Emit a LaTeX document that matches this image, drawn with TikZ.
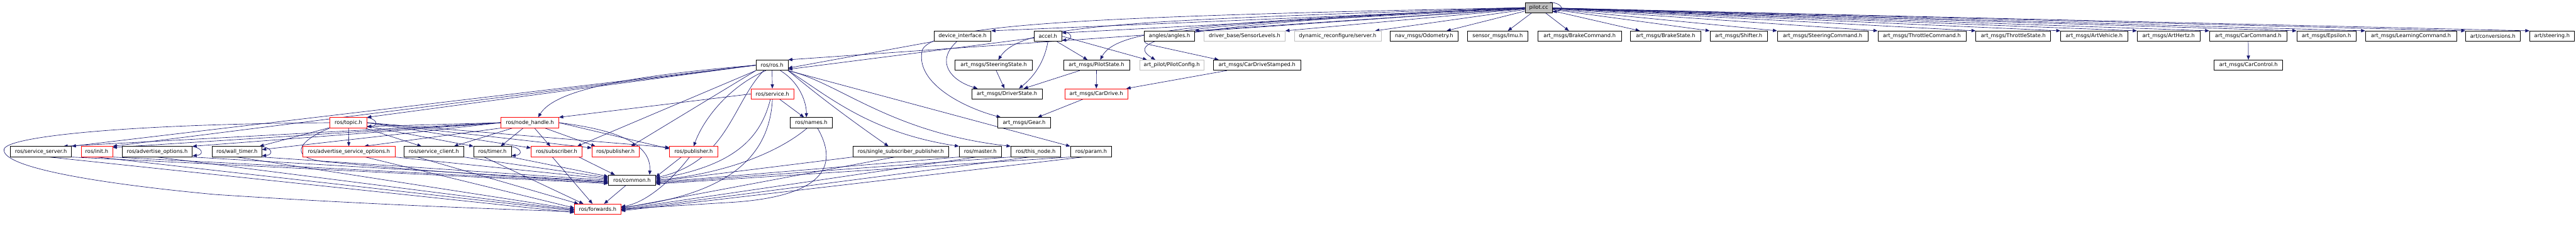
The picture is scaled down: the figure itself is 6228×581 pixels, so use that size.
\documentclass[tikz,border=0pt]{standalone}
\usepackage{fontspec}
\setmainfont{DejaVu Sans}
\usetikzlibrary{arrows.meta,backgrounds}
\definecolor{edgec}{HTML}{191970}
\definecolor{grayb}{HTML}{BFBFBF}
\definecolor{redb}{HTML}{FF0000}
\tikzset{
 nbox/.style={draw=black, line width=1.1pt, fill=white, minimum height=25pt, inner sep=0pt, font=\fontsize{12.6}{14}\selectfont},
 rbox/.style={nbox, draw=redb},
 gbox/.style={nbox, draw=grayb},
 pbox/.style={nbox, fill=grayb},
 edg/.style={draw=edgec, line width=1pt, -{Triangle[length=10pt,width=8pt]}},
}
\newcommand\mknode[6]{\node[#1,minimum width={#4-#3}] (#2) at ({(#3+#4)/2},-#5) {#6};}
\newcommand\selfloop[1]{\draw[edg] ([xshift=-6pt]#1.north east) .. controls +(30,-2) and +(30,3) .. ([yshift=3pt]#1.south east);}
\begin{document}
\begin{tikzpicture}[x=1pt,y=1pt]
\useasboundingbox (0,0) rectangle (6228,-581);
% row 0
\mknode{pbox}{pilot}{3687}{3753}{18.5}{pilot.cc}
% row 1
\mknode{nbox}{dev}{2258}{2396}{87.5}{device\_interface.h}
\mknode{nbox}{accel}{2500}{2567}{87.5}{accel.h}
\mknode{nbox}{angles}{2767}{2888}{87.5}{angles/angles.h}
\mknode{gbox}{sensorlv}{2911}{3107}{87.5}{driver\_base/SensorLevels.h}
\mknode{gbox}{dynrec}{3129}{3339}{87.5}{dynamic\_reconfigure/server.h}
\mknode{nbox}{odom}{3361}{3525}{87.5}{nav\_msgs/Odometry.h}
\mknode{nbox}{imu}{3548}{3694}{87.5}{sensor\_msgs/Imu.h}
\mknode{nbox}{brakecmd}{3718}{3920}{87.5}{art\_msgs/BrakeCommand.h}
\mknode{nbox}{brakest}{3942}{4112}{87.5}{art\_msgs/BrakeState.h}
\mknode{nbox}{shifter}{4134}{4273}{87.5}{art\_msgs/Shifter.h}
\mknode{nbox}{steercmd}{4297}{4516}{87.5}{art\_msgs/SteeringCommand.h}
\mknode{nbox}{throtcmd}{4540}{4753}{87.5}{art\_msgs/ThrottleCommand.h}
\mknode{nbox}{throtst}{4777}{4958}{87.5}{art\_msgs/ThrottleState.h}
\mknode{nbox}{artveh}{4982}{5144}{87.5}{art\_msgs/ArtVehicle.h}
\mknode{nbox}{arthz}{5167}{5319}{87.5}{art\_msgs/ArtHertz.h}
\mknode{nbox}{carcmd}{5342}{5529}{87.5}{art\_msgs/CarCommand.h}
\mknode{nbox}{eps}{5553}{5696}{87.5}{art\_msgs/Epsilon.h}
\mknode{nbox}{learn}{5719}{5939}{87.5}{art\_msgs/LearningCommand.h}
\mknode{nbox}{conv}{5961}{6093}{87.5}{art/conversions.h}
\mknode{nbox}{steering}{6116}{6224}{87.5}{art/steering.h}
% row 2
\mknode{nbox}{ros}{1828}{1905}{157.5}{ros/ros.h}
\mknode{nbox}{steerst}{2309}{2496}{157.5}{art\_msgs/SteeringState.h}
\mknode{nbox}{pilotst}{2571}{2731}{157.5}{art\_msgs/PilotState.h}
\mknode{gbox}{pilotcfg}{2755}{2911}{157.5}{art\_pilot/PilotConfig.h}
\mknode{nbox}{cdstamped}{2933}{3145}{157.5}{art\_msgs/CarDriveStamped.h}
\mknode{nbox}{carctl}{5353}{5519}{157.5}{art\_msgs/CarControl.h}
% row 3
\mknode{rbox}{service}{1816}{1919}{227}{ros/service.h}
\mknode{nbox}{driverst}{2349}{2520}{227}{art\_msgs/DriverState.h}
\mknode{rbox}{cardrive}{2574}{2727}{227}{art\_msgs/CarDrive.h}
% row 4
\mknode{rbox}{topic}{798}{887}{296.5}{ros/topic.h}
\mknode{rbox}{nh}{1211}{1351}{296.5}{ros/node\_handle.h}
\mknode{nbox}{names}{1911}{2012}{296.5}{ros/names.h}
\mknode{nbox}{gear}{2412}{2540}{296.5}{art\_msgs/Gear.h}
% row 5
\mknode{nbox}{srvserver}{25}{173}{366.5}{ros/service\_server.h}
\mknode{rbox}{init}{196}{272}{366.5}{ros/init.h}
\mknode{nbox}{advopt}{295}{465}{366.5}{ros/advertise\_options.h}
\mknode{nbox}{walltimer}{513}{633}{366.5}{ros/wall\_timer.h}
\mknode{rbox}{advsrvopt}{732}{955}{366.5}{ros/advertise\_service\_options.h}
\mknode{nbox}{srvclient}{977}{1121}{366.5}{ros/service\_client.h}
\mknode{nbox}{timer}{1145}{1236}{366.5}{ros/timer.h}
\mknode{rbox}{subscriber}{1284}{1407}{366.5}{ros/subscriber.h}
\mknode{rbox}{pubA}{1431}{1545}{366.5}{ros/publisher.h}
\mknode{rbox}{pubB}{1619}{1735}{366.5}{ros/publisher.h}
\mknode{nbox}{ssp}{2062}{2294}{366.5}{ros/single\_subscriber\_publisher.h}
\mknode{nbox}{master}{2319}{2421}{366.5}{ros/master.h}
\mknode{nbox}{thisnode}{2444}{2564}{366.5}{ros/this\_node.h}
\mknode{nbox}{param}{2588}{2688}{366.5}{ros/param.h}
% row 6, 7
\mknode{nbox}{common}{1471}{1585}{435.5}{ros/common.h}
\mknode{rbox}{forwards}{1389}{1501}{505.5}{ros/forwards.h}

\begin{pgfonlayer}{background}
% ---- pilot.cc
\selfloop{pilot}
\draw[edg] (pilot) -- (ros.north east);
\draw[edg] (pilot) -- (dev.north east);
\draw[edg] (pilot) -- ([yshift=-5pt]accel.north east);
\draw[edg] (pilot) -- (angles.north east);
\draw[edg] (pilot) -- (sensorlv.north east);
\draw[edg] (pilot) -- ([xshift=-15pt]dynrec.north east);
\draw[edg] (pilot) -- ([xshift=-28pt]odom.north east);
\draw[edg] (pilot) -- ([xshift=-49pt]imu.north east);
\draw[edg] (pilot) -- ([xshift=-26pt]brakecmd.north);
\draw[edg] (pilot) -- ([xshift=23pt]brakest.north west);
\draw[edg] (pilot) -- (shifter.north west);
\draw[edg] (pilot) -- (steercmd.north west);
\draw[edg] (pilot) -- (throtcmd.north west);
\draw[edg] (pilot) -- (throtst.north west);
\draw[edg] (pilot) -- (artveh.north west);
\draw[edg] (pilot) -- (arthz.north west);
\draw[edg] (pilot) -- (carcmd.north west);
\draw[edg] (pilot) -- (eps.north west);
\draw[edg] (pilot) -- (learn.north west);
\draw[edg] (pilot) -- (conv.north west);
\draw[edg] (pilot) -- (steering.north west);
\draw[edg] (pilot.west) .. controls (2700,-50) and (2470,-60) .. ([xshift=11pt]steerst.north);
\draw[edg] (pilot.west) .. controls (2900,-55) and (2700,-70) .. ([xshift=9pt]pilotst.north);
\draw[edg] (pilot.west) .. controls (2800,-60) and (2720,-100) .. ([xshift=-40pt]pilotcfg.north);
\draw[edg] (pilot.west) .. controls (2850,-55) and (2720,-90) .. (2780,-108) -- ([xshift=14pt]cdstamped.north west);
\draw[edg] (pilot.west) .. controls (2600,-40) and (2260,-60) .. (2230,-120) .. controls (2210,-200) and (2330,-260) .. ([xshift=8pt]gear.north west);
% ---- right cluster
\draw[edg] (dev) -- ([yshift=-7pt]ros.east);
\draw[edg] (accel) -- ([yshift=-10pt]ros.east);
\draw[edg] ([xshift=-14pt]dev.south) .. controls (2260,-150) and (2300,-195) .. ([xshift=15pt]driverst.north west);
\draw[edg] (accel.south) .. controls (2525,-150) and (2500,-185) .. ([xshift=-57pt]driverst.north east);
\selfloop{accel}
\draw[edg] (accel) -- (pilotst);
\draw[edg] (accel.east) -- ([xshift=-60pt]pilotcfg.north);
\draw[edg] (steerst) -- (driverst);
\draw[edg] (pilotst) -- (driverst);
\draw[edg] (pilotst) -- (cardrive);
\draw[edg] (cdstamped) -- (cardrive);
\draw[edg] (cardrive) -- (gear);
\draw[edg] (carcmd) -- (carctl);
% ---- ros.h
\draw[edg] (ros) -- (service);
\draw[edg] ([xshift=20pt]ros.south) .. controls (1935,-200) and (1950,-250) .. ([xshift=-12pt]names.north);
\draw[edg] (ros.west) .. controls (1500,-185) and (1340,-220) .. ([xshift=20pt]nh.north);
\draw[edg] (ros.west) -- (topic.north east);
\draw[edg] (ros.west) -- (srvserver.north east);
\draw[edg] (ros.west) -- (init.north east);
\draw[edg] (ros.south west) -- ([xshift=-12pt]subscriber.north east);
\draw[edg] (ros.south west) -- ([xshift=-20pt]pubA.north east);
\draw[edg] ([xshift=-15pt]ros.south) .. controls (1760,-210) and (1700,-290) .. (pubB.north);
\draw[edg] ([xshift=-20pt]ros.south) .. controls (1770,-250) and (1760,-390) .. ([yshift=6pt]common.east);
\draw[edg] (ros.south east) .. controls (2000,-250) and (2100,-320) .. ([xshift=-30pt]ssp.north);
\draw[edg] (ros.south east) .. controls (2000,-230) and (2100,-320) .. (master.north west);
\draw[edg] (ros.south east) .. controls (2030,-200) and (2150,-320) .. (thisnode.north west);
\draw[edg] (ros.south east) -- (param.north west);
% ---- service.h
\draw[edg] (service.west) -- (nh.north east);
\draw[edg] (service) -- (names);
\draw[edg] ([xshift=-5pt]service.south) .. controls (1840,-330) and (1780,-400) .. ([yshift=3pt]common.east);
\draw[edg] (service.south) .. controls (1860,-380) and (1760,-470) .. ([yshift=4pt]forwards.east);
% ---- names.h
\draw[edg] ([xshift=-10pt]names.south) .. controls (1880,-370) and (1750,-420) .. (common.east);
\draw[edg] ([xshift=15pt]names.south) .. controls (2040,-420) and (1960,-480) .. (1750,-490) -- (forwards.east);
% ---- topic.h
\selfloop{topic}
\draw[edg] (topic) -- (advsrvopt);
\draw[edg] (topic) -- ([xshift=-30pt]srvclient.north);
\draw[edg] (topic) -- ([xshift=-6pt]walltimer.north east);
\draw[edg] (topic) -- (timer.north west);
\draw[edg] (topic.east) -- ([yshift=-4pt]subscriber.north west);
\draw[edg] (topic.east) -- ([yshift=-4pt]pubA.north west);
\draw[edg] (topic.east) -- ([yshift=-3pt]pubB.north west);
\draw[edg] (topic.south west) .. controls (720,-340) and (690,-385) .. (800,-392) .. controls (1100,-420) and (1300,-430) .. ([yshift=-4pt]common.west);
\draw[edg] (topic.west) .. controls (300,-300) and (20,-330) .. (10,-360) .. controls (0,-400) and (200,-440) .. (520,-470) .. controls (900,-495) and (1200,-505) .. ([yshift=-6pt]forwards.west);
% ---- node_handle.h
\draw[edg] (nh.west) -- ([yshift=4pt]topic.south east);
\draw[edg] (nh.west) -- ([xshift=-20pt]srvserver.north east);
\draw[edg] (nh.west) -- ([yshift=-3pt]init.north east);
\draw[edg] (nh.west) -- (advopt.north east);
\draw[edg] (nh.west) -- ([yshift=-8pt]walltimer.north east);
\draw[edg] (nh.south west) -- ([xshift=-75pt]advsrvopt.north east);
\draw[edg] (nh) -- ([xshift=-24pt]srvclient.north east);
\draw[edg] (nh) -- ([xshift=20pt]timer.north);
\draw[edg] (nh) -- ([xshift=-15pt]subscriber.north);
\draw[edg] (nh) -- ([xshift=9pt]pubA.north west);
\draw[edg] (nh.east) -- ([yshift=-6pt]pubB.north west);
\draw[edg] (nh.east) .. controls (1500,-315) and (1575,-350) .. ([xshift=-15pt]common.north east);
% ---- row 5 self loops
\selfloop{advopt}
\selfloop{walltimer}
\selfloop{timer}
% ---- row 5 -> common / forwards (left)
\draw[edg] (srvserver.south east) -- ([yshift=-8pt]common.west);
\draw[edg] ([xshift=20pt]srvserver.south) -- ([yshift=-8pt]forwards.west);
\draw[edg] (init.south east) -- ([yshift=-6pt]common.west);
\draw[edg] (init.south) -- ([yshift=-4pt]forwards.west);
\draw[edg] (advopt.south east) -- ([yshift=-3pt]common.west);
\draw[edg] (advopt.south) -- ([yshift=-2pt]forwards.west);
\draw[edg] (walltimer.south east) -- (common.west);
\draw[edg] (walltimer.south) -- (forwards.west);
\draw[edg] (advsrvopt.south east) -- ([yshift=3pt]common.west);
\draw[edg] ([xshift=40pt]advsrvopt.south) -- ([yshift=3pt]forwards.west);
\draw[edg] (srvclient.south east) -- ([yshift=6pt]common.west);
\draw[edg] ([xshift=-40pt]srvclient.south) -- ([xshift=10pt]forwards.north west);
\draw[edg] (timer.south east) -- ([yshift=9pt]common.west);
\draw[edg] ([xshift=-20pt]timer.south) -- ([xshift=22pt]forwards.north west);
\draw[edg] ([xshift=-8pt]subscriber.south east) -- ([xshift=16pt]common.north west);
\draw[edg] ([xshift=-10pt]subscriber.south) -- ([xshift=44pt]forwards.north west);
\draw[edg] (common) -- (forwards);
% ---- right -> common / forwards
\draw[edg] ([xshift=-30pt]pubB.south) -- ([yshift=8pt]common.east);
\draw[edg] ([xshift=-10pt]pubB.south) .. controls (1620,-440) and (1560,-490) .. ([yshift=6pt]forwards.east);
\draw[edg] (ssp.south west) -- ([yshift=-3pt]common.east);
\draw[edg] ([xshift=-15pt]ssp.south) -- ([yshift=2pt]forwards.east);
\draw[edg] (master.south west) -- ([yshift=-5pt]common.east);
\draw[edg] ([xshift=-10pt]master.south) -- (forwards.east);
\draw[edg] (thisnode.south west) -- ([yshift=-7pt]common.east);
\draw[edg] ([xshift=-15pt]thisnode.south) -- ([yshift=-2pt]forwards.east);
\draw[edg] (param.south west) -- ([yshift=-9pt]common.east);
\draw[edg] ([xshift=-20pt]param.south) -- ([yshift=-4pt]forwards.east);
\end{pgfonlayer}
\end{tikzpicture}
\end{document}
